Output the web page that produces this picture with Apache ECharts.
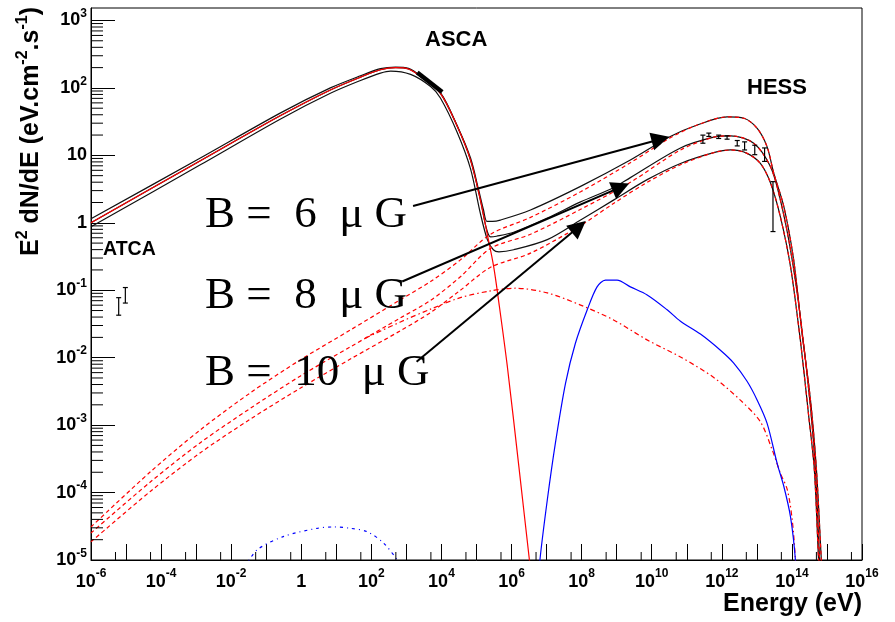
<!DOCTYPE html>
<html>
<head>
<meta charset="utf-8">
<title>RX J1713 SED</title>
<script src="https://cdn.jsdelivr.net/npm/echarts@6/dist/echarts.min.js"></script>
<style>
  html, body { margin: 0; padding: 0; background: #fff; }
  #chart { width: 895px; height: 622px; }
</style>
</head>
<body>
<div id="chart"></div>
<script>
// all values are log10(E / eV) and log10(E^2 dN/dE)
const synchrotron = [
  [-6.00, 0.00], [-2.88, 0.92], [-0.59, 1.59], [0.83, 1.97], [1.69, 2.16], [2.26, 2.27],
  [2.69, 2.30], [3.06, 2.28], [3.40, 2.17], [3.97, 1.92], [4.45, 1.43], [4.83, 0.93],
  [5.11, 0.34], [5.30, -0.15], [5.49, -0.65], [5.64, -1.19], [5.88, -2.13], [6.21, -3.62],
  [6.51, -5.00], [6.58, -5.30]
];
const totalB6 = [
  [-6.00, 0.06], [-2.88, 0.96], [-0.59, 1.63], [0.83, 2.00], [1.69, 2.18], [2.26, 2.285],
  [2.69, 2.31], [3.06, 2.29], [3.40, 2.18], [3.97, 1.93], [4.45, 1.44], [4.83, 0.96],
  [5.06, 0.49], [5.20, 0.19], [5.30, 0.02], [5.46, 0.02], [5.68, 0.04], [6.54, 0.19],
  [7.97, 0.54], [9.39, 0.93], [10.53, 1.28], [11.30, 1.45], [12.15, 1.57], [12.63, 1.55],
  [13.01, 1.40], [13.29, 1.13], [13.48, 0.74], [13.77, 0.24], [14.05, -0.55], [14.29, -1.64],
  [14.53, -2.63], [14.70, -3.66], [14.84, -5.00], [14.90, -5.50]
];
const totalB8 = [
  [-6.00, 0.00], [-2.88, 0.92], [-0.59, 1.59], [0.83, 1.97], [1.69, 2.16], [2.26, 2.27],
  [2.69, 2.30], [3.06, 2.28], [3.40, 2.17], [3.97, 1.92], [4.45, 1.43], [4.83, 0.93],
  [5.11, 0.34], [5.28, -0.08], [5.40, -0.21], [5.57, -0.20], [6.06, -0.14], [7.02, 0.07],
  [7.97, 0.31], [8.91, 0.52], [9.39, 0.67], [10.82, 1.11], [11.77, 1.27], [12.25, 1.29],
  [12.91, 1.18], [13.39, 0.83], [13.67, 0.34], [13.96, -0.40], [14.24, -1.39], [14.53, -2.73],
  [14.67, -3.66], [14.79, -5.00], [14.84, -5.50]
];
const totalB10 = [
  [-6.00, -0.06], [-2.88, 0.86], [-0.59, 1.54], [0.83, 1.92], [1.69, 2.11], [2.26, 2.22],
  [2.55, 2.25], [3.12, 2.20], [3.69, 2.02], [3.97, 1.85], [4.45, 1.34], [4.83, 0.80],
  [5.11, 0.14], [5.31, -0.25], [5.48, -0.40], [5.64, -0.43], [6.06, -0.40], [7.02, -0.25],
  [7.97, 0.04], [8.92, 0.34], [9.87, 0.64], [10.82, 0.88], [11.77, 1.04], [12.25, 1.08],
  [12.72, 1.03], [13.10, 0.88], [13.39, 0.59], [13.67, 0.09], [13.96, -0.65], [14.24, -1.74],
  [14.48, -2.87], [14.64, -3.66], [14.76, -5.00], [14.81, -5.50]
];
const icB6 = [
  [-6.00, -4.51], [-4.30, -3.69], [-2.88, -3.07], [-1.45, -2.52], [-0.02, -2.03], [1.40, -1.59],
  [2.83, -1.14], [3.69, -0.87], [4.54, -0.55], [5.40, -0.17], [6.54, 0.08], [7.97, 0.46],
  [9.39, 0.89], [10.53, 1.26], [11.30, 1.45], [12.15, 1.57], [12.63, 1.55], [13.01, 1.40],
  [13.29, 1.13], [13.48, 0.74], [13.77, 0.24], [14.05, -0.55], [14.29, -1.64], [14.53, -2.63],
  [14.70, -3.66], [14.84, -5.00], [14.90, -5.50]
];
const icB8 = [
  [-6.00, -4.60], [-4.30, -3.84], [-2.88, -3.26], [-1.45, -2.75], [-0.02, -2.27], [1.40, -1.84],
  [2.83, -1.41], [3.69, -1.15], [4.54, -0.80], [5.40, -0.38], [6.54, -0.17], [7.97, 0.20],
  [9.39, 0.60], [10.82, 1.08], [11.77, 1.27], [12.25, 1.29], [12.91, 1.18], [13.39, 0.83],
  [13.67, 0.34], [13.96, -0.40], [14.24, -1.39], [14.53, -2.73], [14.67, -3.66], [14.79, -5.00],
  [14.84, -5.50]
];
const icB10 = [
  [-6.00, -4.73], [-4.30, -3.98], [-2.88, -3.41], [-1.45, -2.91], [-0.02, -2.45], [1.40, -2.02],
  [2.83, -1.60], [3.69, -1.33], [4.54, -1.00], [5.40, -0.66], [6.54, -0.45], [7.97, -0.04],
  [8.92, 0.29], [9.87, 0.60], [10.82, 0.86], [11.77, 1.04], [12.25, 1.08], [12.72, 1.03],
  [13.10, 0.88], [13.39, 0.59], [13.67, 0.09], [13.96, -0.65], [14.24, -1.74], [14.48, -2.87],
  [14.64, -3.66], [14.76, -5.00], [14.81, -5.50]
];
const redDashDot = [
  [1.83, -1.71], [2.83, -1.47], [3.69, -1.28], [4.54, -1.11], [5.40, -1.01], [6.11, -0.97],
  [7.02, -1.04], [7.97, -1.22], [8.91, -1.44], [9.88, -1.74], [10.82, -1.99], [11.76, -2.29],
  [12.53, -2.63], [13.10, -2.95], [13.44, -3.37], [13.67, -3.71], [13.87, -3.96], [14.01, -4.41],
  [14.10, -5.00], [14.13, -5.50]
];
const blueSolid = [
  [6.75, -5.50], [6.81, -5.00], [7.02, -4.11], [7.25, -3.27], [7.54, -2.38], [7.82, -1.79],
  [8.16, -1.29], [8.44, -0.95], [8.68, -0.85], [9.01, -0.85], [9.39, -0.95], [9.87, -1.07],
  [10.44, -1.29], [10.82, -1.46], [11.39, -1.65], [11.96, -1.89], [12.34, -2.08], [12.72, -2.35],
  [13.01, -2.63], [13.29, -2.97], [13.58, -3.57], [13.77, -3.91], [13.96, -4.36], [14.10, -5.00],
  [14.13, -5.50]
];
const blueDashDot = [
  [-1.60, -5.10], [-1.26, -4.85], [-0.50, -4.65], [0.45, -4.53], [0.93, -4.51], [1.40, -4.53],
  [1.88, -4.58], [2.35, -4.75], [2.74, -5.00], [2.85, -5.10]
];
const ascaBand = [[3.31, 2.23], [4.02, 1.94]];
// [logE, low, high]
const atcaPoints = [[-5.21, -1.37, -1.11], [-5.02, -1.19, -0.96]];
const hessPoints = [
  [11.46, 1.18, 1.30], [11.63, 1.28, 1.33], [11.91, 1.25, 1.30], [12.15, 1.24, 1.29],
  [12.44, 1.14, 1.22], [12.65, 1.08, 1.20], [12.94, 1.01, 1.15], [13.22, 0.91, 1.11],
  [13.46, -0.13, 0.61]
];
// annotation arrows: from label to the arrow head
const arrowLines = [
  [[3.19, 0.25], [10.25, 1.24]],
  [[2.88, -0.87], [9.12, 0.53]],
  [[3.29, -2.06], [7.92, -0.06]]
];
const xLabelExponents = [-6, -4, -2, 0, 2, 4, 6, 8, 10, 12, 14, 16];
const yLabelExponents = [-5, -4, -3, -2, -1, 0, 1, 2, 3];
const bLabels = ['B =  6  \u03bc G', 'B =  8  \u03bc G', 'B =  10  \u03bc G'];

const X_MIN = -6, X_MAX = 16, Y_MIN = -5, Y_MAX = 3.185;
const SANS = '"Liberation Sans", Arial, sans-serif';
const SERIF = '"Liberation Serif", "Times New Roman", serif';

const chart = echarts.init(document.getElementById('chart'), null, { renderer: 'canvas' });

function decadeLabel(value, exponents) {
  const n = Math.round(value);
  if (Math.abs(value - n) > 1e-6 || exponents.indexOf(n) < 0) return '';
  if (n === 0) return '{b|1}';
  if (n === 1) return '{b|10}';
  return '{b|10}{s|' + n + '}';
}

function curve(data, color, type, width) {
  return {
    type: 'line',
    data: data,
    showSymbol: false,
    symbol: 'none',
    smooth: 0.3,
    silent: true,
    lineStyle: { color: color, type: type, width: width || 1.2 },
  };
}

function errorBars(points) {
  return {
    type: 'custom',
    data: points,
    encode: { x: 0, y: [1, 2] },
    silent: true,
    z: 5,
    renderItem: (params, api) => {
      const lo = api.coord([api.value(0), api.value(1)]);
      const hi = api.coord([api.value(0), api.value(2)]);
      const style = { stroke: '#000', lineWidth: 1.2 };
      return {
        type: 'group',
        children: [
          { type: 'line', shape: { x1: lo[0], y1: lo[1], x2: hi[0], y2: hi[1] }, style },
          { type: 'line', shape: { x1: lo[0] - 2.5, y1: lo[1], x2: lo[0] + 2.5, y2: lo[1] }, style },
          { type: 'line', shape: { x1: hi[0] - 2.5, y1: hi[1], x2: hi[0] + 2.5, y2: hi[1] }, style },
        ],
      };
    },
  };
}

// minor ticks of the log axes (2..9 x 10^n on y, 5 x 10^n on x)
const yMinor = [];
for (let n = Y_MIN; n < 4; n++) {
  for (let k = 2; k <= 9; k++) {
    const v = n + Math.log10(k);
    if (v < Y_MAX) yMinor.push([X_MIN, v]);
  }
}
const xMinor = [];
for (let n = X_MIN; n < X_MAX; n++) xMinor.push([n + Math.log10(5), Y_MIN]);

function minorTicks(data, dx, dy) {
  return {
    type: 'custom',
    data: data,
    silent: true,
    z: 4,
    renderItem: (params, api) => {
      const p = api.coord([api.value(0), api.value(1)]);
      return {
        type: 'line',
        shape: { x1: p[0], y1: p[1], x2: p[0] + dx, y2: p[1] + dy },
        style: { stroke: '#000', lineWidth: 1 },
      };
    },
  };
}

const tickFont = { fontFamily: SANS, fontWeight: 'bold', color: '#000' };

chart.setOption({
  animation: false,
  backgroundColor: '#fff',
  grid: { left: 91, right: 33, top: 8, bottom: 62, show: true, borderColor: '#000', borderWidth: 1 },
  xAxis: {
    type: 'value', min: X_MIN, max: X_MAX, interval: 1,
    axisLine: { show: true, onZero: false, lineStyle: { color: '#000', width: 1 } },
    axisTick: { show: true, inside: true, length: 16, lineStyle: { color: '#000', width: 1 } },
    splitLine: { show: false },
    axisLabel: {
      margin: 8,
      formatter: (v) => decadeLabel(v, xLabelExponents),
      rich: {
        b: Object.assign({ fontSize: 18, lineHeight: 28 }, tickFont),
        s: Object.assign({ fontSize: 12, lineHeight: 12, verticalAlign: 'top' }, tickFont),
      },
    },
  },
  yAxis: {
    type: 'value', min: Y_MIN, max: Y_MAX, interval: 1,
    axisLine: { show: true, onZero: false, lineStyle: { color: '#000', width: 1 } },
    axisTick: { show: true, inside: true, length: 24, lineStyle: { color: '#000', width: 1 } },
    splitLine: { show: false },
    axisLabel: {
      margin: 4,
      showMaxLabel: false,
      formatter: (v) => decadeLabel(v, yLabelExponents),
      rich: {
        b: Object.assign({ fontSize: 18, lineHeight: 25 }, tickFont),
        s: Object.assign({ fontSize: 12, lineHeight: 12, verticalAlign: 'top' }, tickFont),
      },
    },
  },
  series: [
    curve(totalB6, '#111', 'solid'),
    curve(totalB8, '#111', 'solid'),
    curve(totalB10, '#111', 'solid'),
    curve(synchrotron, '#ff0000', 'solid'),
    curve(icB6, '#ff0000', [4, 3]),
    curve(icB8, '#ff0000', [4, 3]),
    curve(icB10, '#ff0000', [4, 3]),
    curve(redDashDot, '#ff0000', [5, 3, 1.5, 3]),
    curve(blueSolid, '#0000ff', 'solid'),
    curve(blueDashDot, '#0000ff', [3, 4, 1, 4]),
    {
      type: 'line', data: ascaBand, showSymbol: false, symbol: 'none', silent: true,
      lineStyle: { color: '#000', width: 4.5, cap: 'butt' }, z: 5,
    },
    errorBars(atcaPoints),
    errorBars(hessPoints),
    {
      type: 'lines',
      coordinateSystem: 'cartesian2d',
      silent: true,
      z: 6,
      symbol: ['none', 'path://M6 0L12 18L0 18Z'],
      symbolSize: 18,
      symbolKeepAspect: true,
      lineStyle: { color: '#000', width: 2, opacity: 1, curveness: 0 },
      itemStyle: { color: '#000' },
      data: arrowLines.map((c) => ({ coords: c })),
    },
    minorTicks(yMinor, 12, 0),
    minorTicks(xMinor, 0, -8),
  ],
  graphic: [
    {
      type: 'text', x: 31, y: 7, rotation: Math.PI / 2,
      style: {
        text: '{b|E}{s|2}{b| dN/dE (eV.cm}{s|-2}{b|.s}{s|-1}{b|)}',
        align: 'right', textAlign: 'right', verticalAlign: 'middle', textVerticalAlign: 'middle',
        rich: {
          b: { font: 'bold 25px ' + SANS, fill: '#000', lineHeight: 32 },
          s: { font: 'bold 16px ' + SANS, fill: '#000', lineHeight: 16, verticalAlign: 'top' },
        },
      },
    },
    {
      type: 'text', x: 862, y: 604,
      style: {
        text: 'Energy (eV)', font: 'bold 25px ' + SANS, fill: '#000',
        align: 'right', textAlign: 'right', verticalAlign: 'middle', textVerticalAlign: 'middle',
      },
    },
    { type: 'text', x: 425, y: 40, style: { text: 'ASCA', font: 'bold 22px ' + SANS, fill: '#000', verticalAlign: 'middle', textVerticalAlign: 'middle' } },
    { type: 'text', x: 747, y: 88, style: { text: 'HESS', font: 'bold 22px ' + SANS, fill: '#000', verticalAlign: 'middle', textVerticalAlign: 'middle' } },
    { type: 'text', x: 103, y: 250, style: { text: 'ATCA', font: 'bold 19.5px ' + SANS, fill: '#000', verticalAlign: 'middle', textVerticalAlign: 'middle' } },
    { type: 'text', x: 205, y: 215, z: 10, style: { text: bLabels[0], font: '45px ' + SERIF, fill: '#000', verticalAlign: 'middle', textVerticalAlign: 'middle' } },
    { type: 'text', x: 205, y: 296, z: 10, style: { text: bLabels[1], font: '45px ' + SERIF, fill: '#000', verticalAlign: 'middle', textVerticalAlign: 'middle' } },
    { type: 'text', x: 205, y: 373, z: 10, style: { text: bLabels[2], font: '45px ' + SERIF, fill: '#000', verticalAlign: 'middle', textVerticalAlign: 'middle' } },
  ],
});
</script>
</body>
</html>
